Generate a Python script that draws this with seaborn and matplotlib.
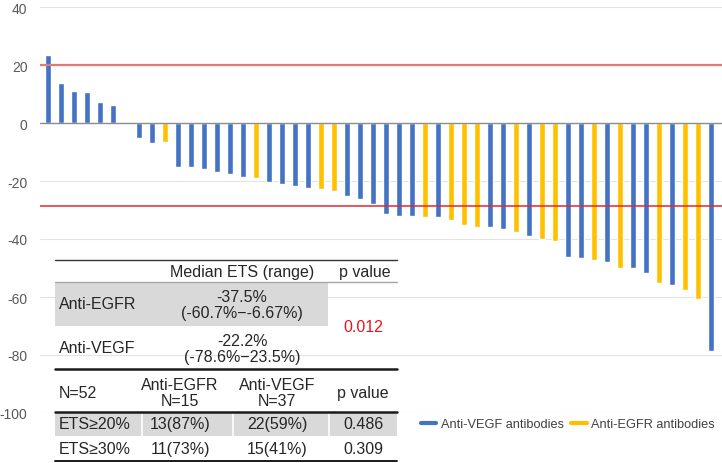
import numpy as np
import pandas as pd
import matplotlib.pyplot as plt
import seaborn as sns
from matplotlib.lines import Line2D
from matplotlib.patches import Rectangle

# Waterfall data (ETS %, one bar per patient)
ets = [23.5, 13.9, 11.1, 10.7, 7.2, 6.2, 0.0, -5.3, -6.9, -6.67,
       -15.0, -15.3, -15.9, -16.8, -17.6, -18.6, -18.9, -20.4, -20.9, -21.8,
       -22.3, -22.9, -23.6, -25.1, -26.2, -27.9, -31.3, -31.9, -32.2, -32.4,
       -32.5, -33.4, -35.3, -35.8, -36.0, -36.7, -37.5, -38.9, -40.0, -40.8,
       -46.1, -46.7, -47.1, -47.8, -49.9, -50.1, -51.7, -55.2, -55.9, -57.5,
       -60.7, -78.6]
drug = ['VEGF', 'VEGF', 'VEGF', 'VEGF', 'VEGF', 'VEGF', 'VEGF', 'VEGF', 'VEGF', 'EGFR',
        'VEGF', 'VEGF', 'VEGF', 'VEGF', 'VEGF', 'VEGF', 'EGFR', 'VEGF', 'VEGF', 'VEGF',
        'VEGF', 'EGFR', 'EGFR', 'VEGF', 'VEGF', 'VEGF', 'VEGF', 'VEGF', 'VEGF', 'EGFR',
        'VEGF', 'EGFR', 'EGFR', 'EGFR', 'VEGF', 'VEGF', 'EGFR', 'VEGF', 'EGFR', 'EGFR',
        'VEGF', 'VEGF', 'EGFR', 'VEGF', 'EGFR', 'VEGF', 'VEGF', 'EGFR', 'VEGF', 'EGFR',
        'EGFR', 'VEGF']
ref_lines = [20, -28.6]
yticks = [40, 20, 0, -20, -40, -60, -80, -100]
legend_labels = ['Anti-VEGF antibodies', 'Anti-EGFR antibodies']

# Summary table contents
tab_header = ['Median ETS (range)', 'p value']
tab_groups = ['Anti-EGFR', 'Anti-VEGF']
tab_median = [['-37.5%', '(-60.7%\u2212-6.67%)'], ['-22.2%', '(-78.6%\u221223.5%)']]
tab_p_median = '0.012'
tab_head2 = ['N=52', 'Anti-EGFR\nN=15', 'Anti-VEGF\nN=37', 'p value']
tab_rows = [['ETS\u226520%', '13(87%)', '22(59%)', '0.486'],
            ['ETS\u226530%', '11(73%)', '15(41%)', '0.309']]

colors = {'VEGF': '#4472C4', 'EGFR': '#FFC000'}

df = pd.DataFrame({'patient': range(len(ets)), 'ets': ets, 'drug': drug})

sns.set_style('white')
plt.rcParams['font.family'] = ['Liberation Sans', 'DejaVu Sans']

fig = plt.figure(figsize=(7.22, 4.64), dpi=100)
ax = fig.add_axes([40 / 722, 50 / 464, 682 / 722, 406 / 464])

sns.barplot(data=df, x='patient', y='ets', hue='drug', palette=colors,
            dodge=False, width=0.46, saturation=1, legend=False, ax=ax, zorder=2)

ax.set_ylim(-100, 40)
ax.set_xlim(-0.64, 51.85)
ax.set_yticks(yticks)
ax.set_yticklabels([str(t) for t in yticks])
ax.set_xticks([])
ax.set_xlabel('')
ax.set_ylabel('')
ax.tick_params(axis='y', length=0, pad=9, labelsize=10, labelcolor='#595959')
for s in ax.spines.values():
    s.set_visible(False)
for t in yticks:
    if t != 0:
        ax.axhline(t, color='#E3E3E3', lw=0.8, zorder=0)
ax.axhline(0, color='#8C8C8C', lw=1.0, zorder=3)
ax.axhline(ref_lines[0], color='#E07A7A', lw=1.6, zorder=4)
ax.axhline(ref_lines[1], color='#E5282E', lw=1.3, alpha=0.85, zorder=4)

# legend below the plot area
handles = [Line2D([], [], color=colors['VEGF'], lw=3),
           Line2D([], [], color=colors['EGFR'], lw=3)]
fig.legend(handles, legend_labels, loc='center right',
           bbox_to_anchor=(0.997, 1 - 425 / 464), ncol=2, frameon=False,
           fontsize=9.2, handlelength=1.2, handletextpad=0.35,
           columnspacing=0.6, labelcolor='#404040', borderaxespad=0)

# summary table drawn in pixel coordinates
tab = fig.add_axes([0, 0, 1, 1], facecolor='none')
tab.set_xlim(0, 722)
tab.set_ylim(464, 0)
tab.axis('off')
fs = 11.5
tc = '#262626'
x0, x1 = 55, 397
tab.add_patch(Rectangle((x0, 283.3), 328 - x0, 43.4, color='#D9D9D9', lw=0))
tab.add_patch(Rectangle((x0, 413.3), x1 - x0, 23.4, color='#D9D9D9', lw=0))
for xs in [141.5, 232.5, 328.5]:
    tab.plot([xs, xs], [414, 436.5], color='white', lw=1.2)
tab.plot([x0, x1], [260.7, 260.7], color='#333333', lw=1.0)
tab.plot([x0, x1], [283.3, 283.3], color='#A6A6A6', lw=1.0)
tab.plot([x0, x1], [370, 370], color='#1A1A1A', lw=1.8)
tab.plot([x0, x1], [413.3, 413.3], color='#1A1A1A', lw=1.8)
tab.plot([x0, x1], [461.5, 461.5], color='#1A1A1A', lw=1.4)

tab.text(242, 272.7, tab_header[0], ha='center', va='center', fontsize=fs, color=tc)
tab.text(365, 272.7, tab_header[1], ha='center', va='center', fontsize=fs, color=tc)
for i, (g, med) in enumerate(zip(tab_groups, tab_median)):
    yc = 305 + i * 44
    tab.text(59, yc, g, ha='left', va='center', fontsize=fs, color=tc)
    tab.text(242, yc - 7.5, med[0], ha='center', va='center', fontsize=fs, color=tc)
    tab.text(242, yc + 8.5, med[1], ha='center', va='center', fontsize=fs, color=tc)
tab.text(363, 328, tab_p_median, ha='center', va='center', fontsize=fs, color='#E8141B')

col_x = [59, 180, 277, 363]
col_ha = ['left', 'center', 'center', 'center']
for cx, ha, txt in zip(col_x, col_ha, tab_head2):
    tab.text(cx, 393.5, txt, ha=ha, va='center', fontsize=fs, color=tc,
             linespacing=1.05)
for r, row in enumerate(tab_rows):
    yc = 425 + r * 24.3
    for cx, ha, txt in zip(col_x, col_ha, row):
        tab.text(cx, yc, txt, ha=ha, va='center', fontsize=fs, color=tc)

plt.savefig('out.png', dpi=100)
